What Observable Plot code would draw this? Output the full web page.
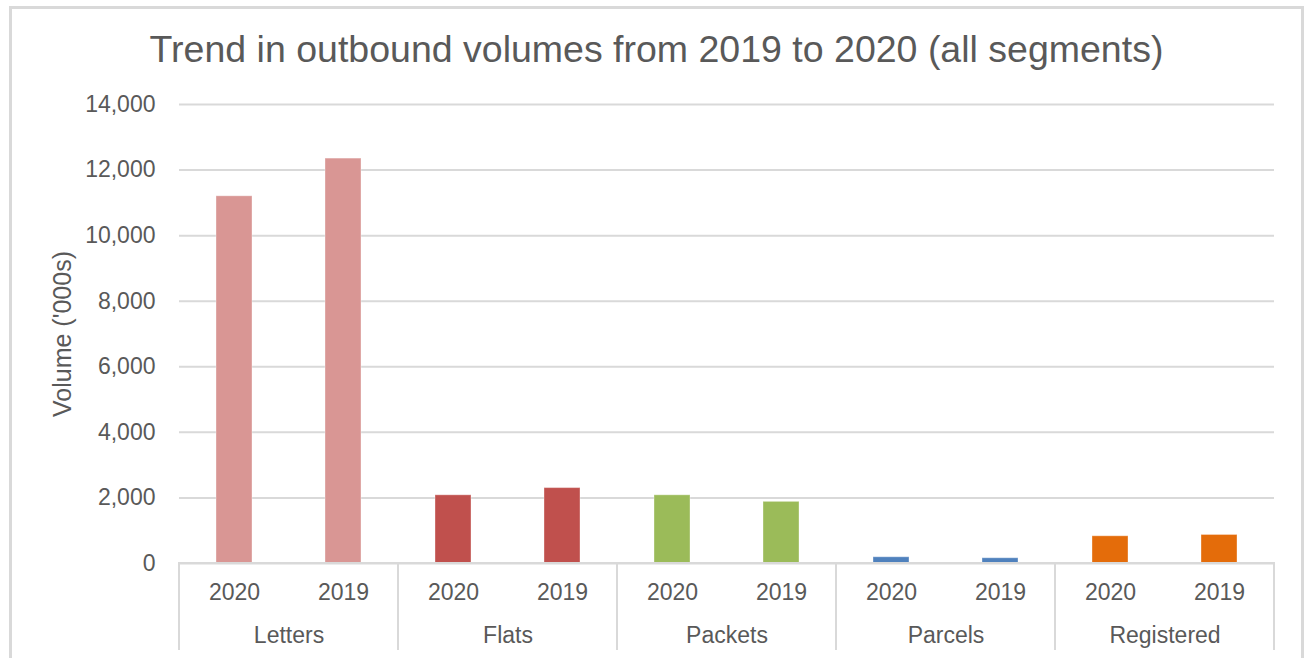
<!DOCTYPE html>
<html><head><meta charset="utf-8">
<script src="https://cdn.jsdelivr.net/npm/d3@7"></script>
<script src="https://cdn.jsdelivr.net/npm/@observablehq/plot@0.6"></script>
<style>
body{margin:0;background:#fff;font-family:"Liberation Sans",Arial,sans-serif;}
#frame{position:absolute;left:9px;top:6px;width:1295px;height:700px;border:3px solid #d9d9d9;box-sizing:border-box;pointer-events:none}
#title{margin-left:9px;width:1295px;height:80px;box-sizing:border-box;padding-top:31px;font-size:37.5px;line-height:37px;text-align:center;color:#595959;}
#chart svg{display:block;overflow:hidden}
</style></head><body>
<div id="title">Trend in outbound volumes from 2019 to 2020 (all segments)</div>
<div id="chart"></div>
<div id="frame"></div>
<script>
const categories = ["Letters", "Flats", "Packets", "Parcels", "Registered"];
const years = ["2020", "2019"];
const volumes2020 = [11200, 2080, 2080, 190, 830];
const volumes2019 = [12350, 2300, 1880, 160, 870];
const colors = ["#D99694", "#C0504D", "#9BBB59", "#4F81BD", "#E46C0A"];
const yTicks = [0, 2000, 4000, 6000, 8000, 10000, 12000, 14000];

const data = categories.flatMap((c, i) => [
  {category: c, year: years[0], value: volumes2020[i]},
  {category: c, year: years[1], value: volumes2019[i]}
]);

const fmt = d3.format(",");

const plot = Plot.plot({
  width: 1304, height: 570,
  marginTop: 24, marginBottom: 87, marginLeft: 178, marginRight: 30,
  style: {fontFamily: '"Liberation Sans", Arial, sans-serif', color: "#595959", background: "transparent"},
  fx: {domain: categories, padding: 0, label: null},
  x: {domain: years, paddingInner: 0.67, paddingOuter: 0.335, label: null},
  y: {domain: [0, 14000], label: null},
  color: {domain: categories, range: colors},
  marks: [
    Plot.ruleY(yTicks, {stroke: "#d9d9d9", strokeWidth: 2}),
    Plot.barY(data, {fx: "category", x: "year", y: "value", fill: "category", stroke: "white", strokeOpacity: 0.35, strokeWidth: 1}),
    Plot.rect(categories, {fx: d => d, y1: 0, y2: -5000, stroke: "#d9d9d9", strokeWidth: 2, fill: "none"}),
    Plot.axisY({ticks: yTicks, tickFormat: fmt, tickSize: 0, tickPadding: 24, fontSize: 23, label: null}),
    Plot.axisY({ticks: [], label: "Volume ('000s)", labelArrow: "none", labelAnchor: "center", labelOffset: 126, fontSize: 25}),
    Plot.axisX({tickSize: 0, tickPadding: 20, fontSize: 23, label: null}),
    Plot.axisFx({anchor: "bottom", tickSize: 0, tickPadding: 63, fontSize: 23, label: null})
  ]
});
document.getElementById("chart").appendChild(plot);
</script>
</body></html>
